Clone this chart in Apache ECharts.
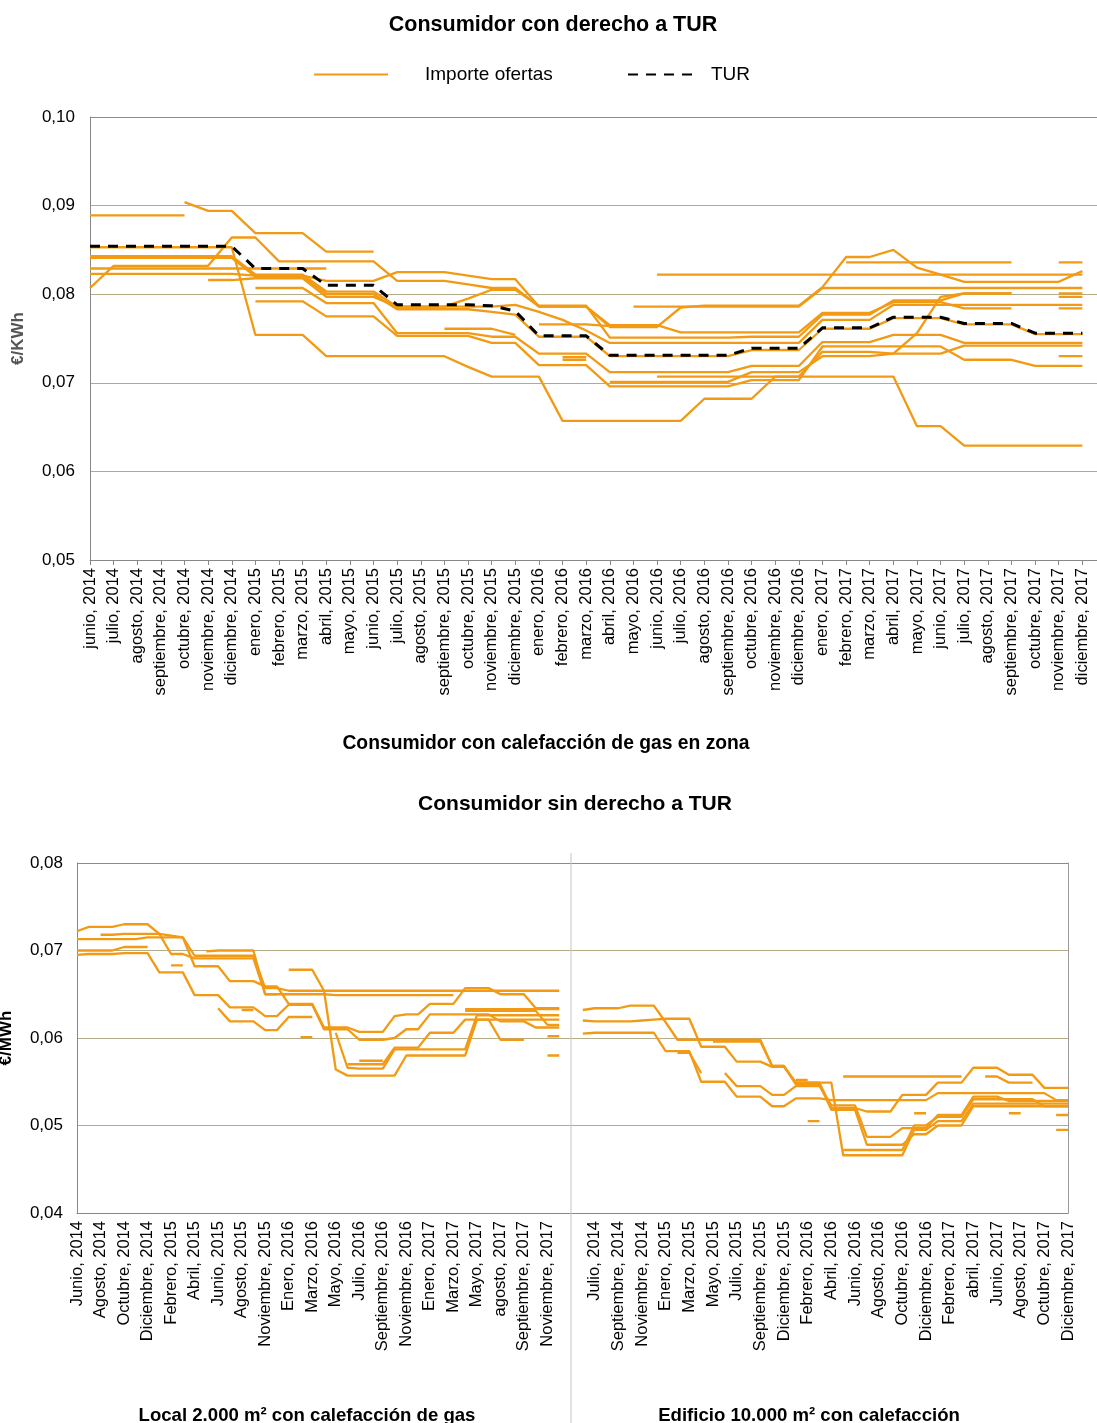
<!DOCTYPE html>
<html>
<head>
<meta charset="utf-8">
<script src="https://cdn.jsdelivr.net/npm/echarts@6/dist/echarts.min.js"></script>
<style>
  html, body { margin: 0; padding: 0; background: #fff; }
  #chart { width: 1097px; height: 1423px; }
</style>
</head>
<body>
<div id="chart"></div>
<script>
// ---- gráfico superior: consumidor con derecho a TUR (€/kWh)
const mesesTUR = ['junio, 2014', 'julio, 2014', 'agosto, 2014', 'septiembre, 2014', 'octubre, 2014', 'noviembre, 2014', 'diciembre, 2014',
  'enero, 2015', 'febrero, 2015', 'marzo, 2015', 'abril, 2015', 'mayo, 2015', 'junio, 2015', 'julio, 2015', 'agosto, 2015',
  'septiembre, 2015', 'octubre, 2015', 'noviembre, 2015', 'diciembre, 2015', 'enero, 2016', 'febrero, 2016', 'marzo, 2016',
  'abril, 2016', 'mayo, 2016', 'junio, 2016', 'julio, 2016', 'agosto, 2016', 'septiembre, 2016', 'octubre, 2016', 'noviembre, 2016',
  'diciembre, 2016', 'enero, 2017', 'febrero, 2017', 'marzo, 2017', 'abril, 2017', 'mayo, 2017', 'junio, 2017', 'julio, 2017',
  'agosto, 2017', 'septiembre, 2017', 'octubre, 2017', 'noviembre, 2017', 'diciembre, 2017']

const tur = [.0854, .0854, .0854, .0854, .0854, .0854, .0854, .0829, .0829, .0829, .0810, .0810, .0810, .0788, .0788, .0788, .0788,
  .0787, .0781, .0753, .0753, .0753, .0731, .0731, .0731, .0731, .0731, .0731, .0739, .0739, .0739, .0762, .0762, .0762,
  .0774, .0774, .0774, .0767, .0767, .0767, .0756, .0756, .0756]

const n = null
const oferta01 = [.0889, .0889, .0889, .0889, .0889, n, n, n, n, n, n, n, n, n, n, n, n, n, n, n, n, n, n, n, n, n, n, n, n, n, n, n, n, n, n, n, n, n, n, n, n, n, n]
const oferta02 = [n, n, n, n, .0904, .0894, .0894, .0869, .0869, .0869, .0848, .0848, .0848, n, n, n, n, n, n, n, n, n, n, n, n, n, n, n, n, n, n, n, n, n, n, n, n, n, n, n, n, n, n]
const oferta03 = [.0853, .0853, .0853, .0853, .0853, .0853, .0853, .0754, .0754, .0754, .0730, .0730, .0730, .0730, .0730, .0730, .0718,
  .0707, .0707, .0707, .0657, .0657, .0657, .0657, .0657, .0657, .0682, .0682, .0682, .0707, .0707, .0707, .0707, .0707,
  .0707, .0651, .0651, .0629, .0629, .0629, .0629, .0629, .0629]
const oferta04 = [.0807, .0832, .0832, .0832, .0832, .0832, .0864, .0864, .0837, .0837, .0837, .0837, .0837, .0815, .0815, .0815, .0811,
  .0807, .0807, .0786, .0786, .0786, .0765, .0765, .0765, .0757, .0757, .0757, .0757, .0757, .0757, .0779, .0779, .0779,
  .0791, .0791, .0791, .0784, .0784, .0784, n, .0784, .0784]
const oferta05 = [.0823, .0823, .0823, .0823, .0823, .0823, .0823, .0821, .0821, .0821, .0815, .0815, .0815, .0825, .0825, .0825, .0821,
  .0817, .0817, .0786, .0786, .0786, .0763, .0763, .0763, .0785, .0787, .0787, .0787, .0787, .0787, .0808, .0842, .0842,
  .0850, .0830, .0822, .0814, .0814, .0814, .0814, .0814, .0826]
const oferta06 = [.0829, .0829, .0829, .0829, .0829, .0829, .0829, .0829, .0829, .0829, .0829, n, n, n, n, n, n, n, n, n, n, n, n, n, n, n, n, n, n, n, n, n, n, n, n, n, n, n, n, n, n, n, n]
const oferta07 = [n, n, n, n, n, n, n, n, n, n, n, n, n, n, n, n, n, n, n, n, n, n, n, .0786, .0786, .0786, .0786, .0786, .0786, .0786, .0786,
  .0807, .0807, .0807, .0807, .0807, .0807, .0807, .0807, .0807, .0807, .0807, .0807]
const oferta08 = [n, n, n, n, n, n, n, n, n, n, n, n, n, n, n, n, n, n, n, n, n, n, n, n, .0822, .0822, .0822, .0822, .0822, .0822, .0822,
  .0822, .0822, .0822, .0822, .0822, .0822, .0822, .0822, .0822, .0822, .0822, .0822]
const oferta09 = [n, n, n, n, n, n, n, n, n, n, n, n, n, n, n, n, n, n, n, n, n, n, n, n, n, n, n, n, n, n, n, n, .0836, .0836,
  .0836, .0836, .0836, .0836, .0836, .0836, n, .0836, .0836]
const oferta10 = [.0843, .0843, .0843, .0843, .0843, .0843, .0843, .0822, .0822, .0822, .0803, .0803, .0803, .0786, .0786, .0786, .0786,
  .0786, .0788, .0780, .0771, .0759, .0745, .0745, .0745, .0745, .0745, .0745, .0745, .0745, .0745, .0771, .0771, .0771,
  .0788, .0788, .0788, .0788, .0788, .0788, .0788, .0788, .0788]
const oferta11 = [.0841, .0841, .0841, .0841, .0841, .0841, .0841, .0820, .0820, .0820, .0800, .0800, .0800, .0783, .0783, .0783, .0783,
  .0780, .0777, .0752, .0752, .0752, .0730, .0730, .0730, .0730, .0730, .0730, .0737, .0737, .0737, .0761, .0761, .0761,
  .0773, .0773, .0773, .0766, .0766, .0766, .0755, .0755, .0755]
const oferta12 = [n, n, n, n, n, .0816, .0816, .0818, .0818, .0818, .0797, .0797, .0797, .0786, .0786, .0786, .0795,
  .0805, .0805, .0787, .0787, .0787, .0751, .0751, .0751, .0751, .0751, .0751, .0752, .0752, .0752, .0777, .0777, .0777,
  .0793, .0793, .0793, .0801, .0801, .0801, n, .0801, .0801]
const oferta13 = [n, n, n, n, n, n, n, .0807, .0807, .0807, .0790, .0790, .0790, .0756, .0756, .0756, .0756,
  .0752, .0752, .0733, .0733, .0733, .0712, .0712, .0712, .0712, .0712, .0712, .0719, .0719, .0719, .0746, .0746, .0746,
  .0754, .0754, .0754, .0745, .0745, .0745, .0745, .0745, .0745]
const oferta14 = [n, n, n, n, n, n, n, .0792, .0792, .0792, .0775, .0775, .0775, .0753, .0753, .0753, .0753,
  .0745, .0745, .0720, .0720, .0720, .0696, .0696, .0696, .0696, .0696, .0696, .0703, .0703, .0703, .0741, .0741, .0741,
  .0741, .0741, .0741, .0726, .0726, .0726, .0719, .0719, .0719]
const oferta15 = [n, n, n, n, n, n, n, n, n, n, n, n, n, n, n, .0761, .0761, .0761, .0754, n, n, n, n, n, n, n, n, n, n, n, n, n, n, n, n, n, n, n, n, n, n, n, n]
const oferta16 = [n, n, n, n, n, n, n, n, n, n, n, n, n, n, n, n, n, n, n, .0766, .0766, .0766, .0764, n, n, n, n, n, n, n, n, n, n, n, n, n, n, n, n, n, n, n, n]
const oferta17 = [n, n, n, n, n, n, n, n, n, n, n, n, n, n, n, n, n, n, n, n, n, n, n, n, .0707, .0707, .0707, .0707, .0707, .0707, .0707,
  .0735, .0735, .0735, .0733, .0733, .0733, .0742, .0742, .0742, .0742, .0742, .0742]
const oferta18 = [n, n, n, n, n, n, n, n, n, n, n, n, n, n, n, n, n, n, n, n, n, n, .0701, .0701, .0701, .0701, .0701, .0701, .0712, .0712, .0712,
  .0730, .0730, .0730, .0733, .0756, .0797, .0801, .0801, .0801, n, .0797, .0797]
const oferta19 = [n, n, n, n, n, n, n, n, n, n, n, n, n, n, n, n, n, n, n, n, .0729, .0729, n, n, n, n, n, n, n, n, n, n, n, n, n, n, n, n, n, n, n, n, n]
const oferta20 = [n, n, n, n, n, n, n, n, n, n, n, n, n, n, n, n, n, n, n, n, .0726, .0726, n, n, n, n, n, n, n, n, n, n, n, n, n, n, n, n, n, n, n, n, n]
const oferta21 = [n, n, n, n, n, n, n, n, n, n, n, n, n, n, n, n, n, n, n, n, n, n, n, n, n, n, n, n, n, n, n, n, n, n, n, n, n, n, n, n, n, .0730, .0730]

const ofertasTUR = [oferta01, oferta02, oferta03, oferta04, oferta05, oferta06, oferta07, oferta08, oferta09, oferta10, oferta11,
  oferta12, oferta13, oferta14, oferta15, oferta16, oferta17, oferta18, oferta19, oferta20, oferta21]

// ---- gráfico inferior: consumidor sin derecho a TUR (una etiqueta de cada dos en el eje)
const mesesLocal = ['Junio, 2014', 'Julio, 2014', 'Agosto, 2014', 'Septiembre, 2014', 'Octubre, 2014', 'Noviembre, 2014', 'Diciembre, 2014',
  'Enero, 2015', 'Febrero, 2015', 'Marzo, 2015', 'Abril, 2015', 'Mayo, 2015', 'Junio, 2015', 'Julio, 2015', 'Agosto, 2015',
  'Octubre, 2015', 'Noviembre, 2015', 'Diciembre, 2015', 'Enero, 2016', 'Febrero, 2016', 'Marzo, 2016', 'Abril, 2016', 'Mayo, 2016',
  'Junio, 2016', 'Julio, 2016', 'Agosto, 2016', 'Septiembre, 2016', 'Octubre, 2016', 'Noviembre, 2016', 'Diciembre, 2016',
  'Enero, 2017', 'Febrero, 2017', 'Marzo, 2017', 'Abril, 2017', 'Mayo, 2017', 'Julio, 2017', 'agosto, 2017', 'Agosto, 2017',
  'Septiembre, 2017', 'Octubre, 2017', 'Noviembre, 2017', 'Diciembre, 2017', 'Enero, 2018']
const mesesEdificio = ['Mayo, 2014', 'Junio, 2014', 'Julio, 2014', 'Agosto, 2014', 'Septiembre, 2014', 'Octubre, 2014', 'Noviembre, 2014',
  'Diciembre, 2014', 'Enero, 2015', 'Febrero, 2015', 'Marzo, 2015', 'Abril, 2015', 'Mayo, 2015', 'Junio, 2015', 'Julio, 2015',
  'Agosto, 2015', 'Septiembre, 2015', 'Noviembre, 2015', 'Diciembre, 2015', 'Enero, 2016', 'Febrero, 2016', 'Marzo, 2016',
  'Abril, 2016', 'Mayo, 2016', 'Junio, 2016', 'Julio, 2016', 'Agosto, 2016', 'Septiembre, 2016', 'Octubre, 2016', 'Noviembre, 2016',
  'Diciembre, 2016', 'Enero, 2017', 'Febrero, 2017', 'Marzo, 2017', 'abril, 2017', 'Mayo, 2017', 'Junio, 2017', 'Julio, 2017',
  'Agosto, 2017', 'Septiembre, 2017', 'Octubre, 2017', 'Noviembre, 2017', 'Diciembre, 2017']

// Local 2.000 m2
const local01 = [.0722, .0727, .0727, .0727, .0730, .0730, .0730, .0719, .0717, .0715, .0682, .0682, .0682, .0665, .0665, .0665, .0659,
  .0659, .0639, .0639, .0639, .0612, .0612, .0612, .0607, .0607, .0607, .0625, .0627, .0627, .0639, .0639, .0639, .0657, .0657,
  .0657, .0650, .0650, .0650, .0634, .0634, .0634, n]
const local02 = [.0713, .0713, .0713, .0713, .0713, .0713, .0715, .0715, .0715, .0715, .0694, .0694, .0694, .0694, .0694, .0694, .0657,
  .0657, .0654, .0654, .0654, .0654, .0654, .0654, .0654, .0654, .0654, .0654, .0654, .0654, .0654, .0654, .0654, .0654, .0654,
  .0654, .0654, .0654, .0654, .0654, .0654, .0654, n]
const local03 = [.0700, .0700, .0700, .0700, .0704, .0704, .0704, n, n, n, n, n, n, n, n, n, n, n, n, n, n, n, n, n, n, n, n, n, n, n, n, n, n, n, n, n, n, n, n, n, n, n, n]
const local04 = [.0695, .0696, .0696, .0696, .0697, .0697, .0697, .0675, .0675, .0675, .0649, .0649, .0649, .0635, .0635, .0635, .0625,
  .0625, .0638, .0638, .0638, .0610, .0610, .0610, .0598, .0598, .0598, .0600, .0610, .0610, .0627, .0627, .0627, .0627, .0627,
  .0627, .0619, .0619, .0619, .0612, .0612, .0612, n]
const local05 = [n, n, .0718, .0718, .0719, .0719, .0719, .0719, .0696, .0696, .0691, .0691, .0691, .0691, .0691, .0691, .0650,
  .0650, .0650, .0650, .0650, .0650, .0649, .0649, .0649, .0649, .0649, .0649, .0649, .0649, .0649, .0649, .0649, n, n,
  n, n, n, n, n, n, n, n]
const local06 = [n, n, n, n, n, n, n, n, n, n, n, n, .0634, .0619, .0619, .0619, .0609, .0609, .0624, .0624, .0624, n, n, n, n, n, n, n, n, n, n, n, n, n, n, n, n, n, n, n, n, n, n]
const local07 = [n, n, n, n, n, n, n, n, n, n, n, n, n, n, n, n, n, n, .0678, .0678, .0678, .0654, .0564, .0557, .0557, .0557, .0557,
  .0557, .0580, .0580, .0580, .0580, .0580, .0580, .0621, .0621, .0621, .0621, .0621, .0621, .0621, .0621, n]
const local08 = [n, n, n, n, n, n, n, n, n, n, n, .0699, .0700, .0700, .0700, .0700, .0650, .0650, n, n, n, n, n, n, n, n, n, n, n, n, n, n, n, n, n, n, n, n, n, n, n, n, n]
const local09 = [n, n, n, n, n, n, n, n, n, n, n, n, n, n, n, n, n, n, n, n, n, n, n, .0570, .0570, .0570, .0570, .0589, .0589, .0589,
  .0606, .0606, .0606, .0621, .0621, .0621, .0598, .0598, .0598, n, n, n, n]
const local10 = [n, n, n, n, n, n, n, n, n, n, n, n, n, n, n, n, n, n, n, n, n, n, .0606, .0566, .0565, .0565, .0565, .0587, .0587, .0587,
  .0587, .0587, .0587, .0587, .0626, .0626, .0626, .0626, .0626, .0626, .0626, .0626, n]
const local11 = [n, n, n, n, n, n, n, n, n, n, n, n, n, n, n, n, n, n, n, n, n, n, n, n, n, n, n, n, n, n, n, n, n, .0631, .0631, .0631,
  .0631, .0631, .0631, .0631, .0615, .0615, n]
const local12 = [n, n, n, n, n, n, n, n, n, n, n, n, n, n, n, n, n, n, n, n, n, n, n, n, n, n, n, n, n, n, n, n, n, .0633, .0633, .0633,
  .0633, .0633, .0633, .0633, .0633, .0633, n]
const local13 = [n, n, n, n, n, n, n, n, .0683, .0683, n, n, n, n, n, n, n, n, n, n, n, n, n, n, n, n, n, n, n, n, n, n, n, n, n, n, n, n, n, n, n, n, n]
const local14 = [n, n, n, n, n, n, n, n, n, n, n, n, n, n, .0632, .0632, n, n, n, n, n, n, n, n, n, n, n, n, n, n, n, n, n, n, n, n, n, n, n, n, n, n, n]
const local15 = [n, n, n, n, n, n, n, n, n, n, n, n, n, n, n, n, n, n, n, .0601, .0601, n, n, n, n, n, n, n, n, n, n, n, n, n, n, n, n, n, n, n, n, n, n]
const local16 = [n, n, n, n, n, n, n, n, n, n, n, n, n, n, n, n, n, n, n, n, n, n, n, n, n, n, n, n, n, n, n, n, n, n, n, n, n, n, n, n, .0602, .0602, n]
const local17 = [n, n, n, n, n, n, n, n, n, n, n, n, n, n, n, n, n, n, n, n, n, n, n, n, n, n, n, n, n, n, n, n, n, n, n, n, n, n, n, n, .0580, .0580, n]
const local18 = [n, n, n, n, n, n, n, n, n, n, n, n, n, n, n, n, n, n, n, n, n, n, n, n, .0574, .0574, .0574, n, n, n, n, n, n, n, n, n, n, n, n, n, n, n, n]

// Edificio 10.000 m2
const edificio01 = [n, .0632, .0634, .0634, .0634, .0637, .0637, .0637, .0618, .0598, .0598, .0598, .0598, .0598, .0598, .0598, .0598,
  .0568, .0568, .0549, .0549, .0549, .0520, .0520, .0520, .0516, .0516, .0516, .0535, .0535, .0535, .0549, .0549, .0549, .0566,
  .0566, .0566, .0558, .0558, .0558, .0543, .0543, .0543]
const edificio02 = [n, .0620, .0619, .0619, .0619, .0619, .0620, .0621, .0622, .0622, .0622, .0590, .0590, .0590, .0573, .0573, .0573,
  .0567, .0567, .0549, .0549, .0549, .0549, .0466, .0466, .0466, .0466, .0466, .0466, .0495, .0495, .0505, .0505, .0505, .0525,
  .0525, .0525, .0525, .0525, .0525, .0525, .0525, .0525]
const edificio03 = [n, .0605, .0606, .0606, .0606, .0606, .0606, .0606, .0585, .0585, .0585, .0550, .0550, .0550, .0533, .0533, .0533,
  .0522, .0522, .0531, .0531, .0531, .0529, .0529, .0529, .0529, .0529, .0529, .0529, .0529, .0529, .0537, .0537, .0537, .0537,
  .0537, .0537, .0537, .0537, .0537, .0537, .0529, .0529]
const edificio04 = [n, n, n, n, n, n, n, n, n, n, n, n, n, .0560, .0545, .0545, .0545, .0535, .0535, .0545, .0545, .0545, .0523, .0523,
  .0523, .0487, .0487, .0487, .0497, .0497, .0497, .0512, .0512, .0512, .0533, .0533, .0533, .0528, .0528, .0528, .0528, .0528, .0528]
const edificio05 = [n, n, n, n, n, n, n, n, n, n, n, n, .0596, .0596, .0596, .0596, .0596, .0568, .0568, .0547, .0547, .0547, .0518,
  .0518, .0518, .0478, .0478, .0478, .0478, .0490, .0490, .0500, .0500, .0500, .0522, .0522, .0522, .0522, .0522, .0522, .0522, .0522, .0522]
const edificio06 = [n, n, n, n, n, n, n, n, n, .0583, .0583, .0560, n, n, n, n, n, n, n, n, n, n, n, n, n, n, n, n, n, n, n, n, n, n, n, n, n, n, n, n, n, n, n]
const edificio07 = [n, n, n, n, n, n, n, n, n, n, n, n, n, n, n, n, n, n, n, n, n, n, n, n, n, n, n, n, n, n, n, n, n, n, n, .0556, .0556,
  .0549, .0549, .0549, n, n, n]
const edificio08 = [n, n, n, n, n, n, n, n, n, n, n, n, n, n, n, n, n, n, n, n, n, n, n, .0556, .0556, .0556, .0556, .0556, .0556, .0556,
  .0556, .0556, .0556, .0556, n, n, n, n, n, n, n, n, n]
const edificio09 = [n, n, n, n, n, n, n, n, n, n, n, n, n, n, n, n, n, n, n, n, n, n, n, .0472, .0472, .0472, .0472, .0472, .0472, .0500,
  .0500, .0510, .0510, .0510, .0530, .0530, .0530, .0530, .0530, .0530, .0522, .0522, .0522]
const edificio10 = [n, n, n, n, n, n, n, n, n, n, n, n, n, n, n, n, n, n, n, .0552, .0552, n, n, n, n, n, n, n, n, n, n, n, n, n, n, n, n, n, n, n, n, n, n]
const edificio11 = [n, n, n, n, n, n, n, n, n, n, n, n, n, n, n, n, n, n, n, n, .0505, .0505, n, n, n, n, n, n, n, n, n, n, n, n, n, n, n, n, n, n, n, n, n]
const edificio12 = [n, n, n, n, n, n, n, n, n, n, n, n, n, n, n, n, n, n, n, n, n, n, n, n, n, n, n, n, n, .0514, .0514, n, n, n, n, n, n, n, n, n, n, n, n]
const edificio13 = [n, n, n, n, n, n, n, n, n, n, n, n, n, n, n, n, n, n, n, n, n, n, n, n, n, n, n, n, n, n, n, n, n, n, n, n, n, .0514, .0514, n, n, n, n]
const edificio14 = [n, n, n, n, n, n, n, n, n, n, n, n, n, n, n, n, n, n, n, n, n, n, n, n, n, n, n, n, n, n, n, n, n, n, n, n, n, n, n, n, n, .0512, .0512]
const edificio15 = [n, n, n, n, n, n, n, n, n, n, n, n, n, n, n, n, n, n, n, n, n, n, n, n, n, n, n, n, n, n, n, n, n, n, n, n, n, n, n, n, n, .0495, .0495]

const ofertasLocal = [local01, local02, local03, local04, local05, local06, local07, local08, local09, local10, local11, local12,
  local13, local14, local15, local16, local17, local18]
const ofertasEdificio = [edificio01, edificio02, edificio03, edificio04, edificio05, edificio06, edificio07, edificio08, edificio09,
  edificio10, edificio11, edificio12, edificio13, edificio14, edificio15]

// ---- opciones
const naranja = '#f29a14'
const fuente = 'Liberation Sans'
const fmt = v => v.toFixed(2).replace('.', ',')
const colorRejilla = '#b3ac88'

function serieOferta(nombre, data, eje) {
  return {
    name: nombre,
    type: 'line',
    xAxisIndex: eje,
    yAxisIndex: eje,
    data: data,
    symbol: 'none',
    connectNulls: false,
    silent: true,
    lineStyle: { color: naranja, width: 2.3 },
    itemStyle: { color: naranja },
    z: 2
  }
}

const series = []
ofertasTUR.forEach(d => series.push(serieOferta('Importe ofertas', d, 0)))
series.push({
  name: 'TUR',
  type: 'line',
  data: tur,
  symbol: 'none',
  silent: true,
  lineStyle: { color: '#000', width: 3, type: [10, 8] },
  itemStyle: { color: '#000' },
  z: 5
})
ofertasLocal.forEach(d => series.push(serieOferta('Local', d, 1)))
ofertasEdificio.forEach(d => series.push(serieOferta('Edificio', d, 2)))

const textoEje = { color: '#000', fontFamily: fuente, fontSize: 16.5 }
const titulo = (size) => ({ fontSize: size, fontWeight: 'bold', color: '#000', fontFamily: fuente })

const option = {
  animation: false,
  backgroundColor: '#fff',
  textStyle: { fontFamily: fuente },
  title: [
    { text: 'Consumidor con derecho a TUR', left: 548, textAlign: 'center', top: 9, textStyle: titulo(21.5) },
    { text: 'Consumidor con calefacción de gas en zona', left: 541, textAlign: 'center', top: 729, textStyle: titulo(19.3) },
    { text: 'Consumidor sin derecho a TUR', left: 570, textAlign: 'center', top: 789, textStyle: titulo(21) },
    { text: 'Local 2.000 m² con calefacción de gas', left: 302, textAlign: 'center', top: 1401, textStyle: titulo(18.6) },
    { text: 'Edificio 10.000 m² con calefacción', left: 804, textAlign: 'center', top: 1401, textStyle: titulo(18.6) }
  ],
  legend: [
    { data: ['Importe ofertas'], left: 313, top: 65, padding: 0, itemWidth: 74, itemHeight: 14, itemStyle: { opacity: 0 },
      textStyle: { fontSize: 19, color: '#000', fontFamily: fuente, padding: [0, 0, 0, 32] } },
    { data: ['TUR'], left: 627, top: 65, padding: 0, itemWidth: 66, itemHeight: 14, itemStyle: { opacity: 0 },
      textStyle: { fontSize: 19, color: '#000', fontFamily: fuente, padding: [0, 0, 0, 12] } }
  ],
  grid: [
    { left: 90, top: 117, width: 1016, height: 443, containLabel: false, outerBoundsMode: 'none' },
    { left: 77, top: 863, width: 494, height: 350, containLabel: false, outerBoundsMode: 'none' },
    { left: 571, top: 863, width: 497, height: 350, containLabel: false, outerBoundsMode: 'none' }
  ],
  xAxis: [
    {
      type: 'category', gridIndex: 0, boundaryGap: false, data: mesesTUR.concat(['']),
      axisLine: { lineStyle: { color: '#888' } },
      axisTick: { show: true, length: 5, lineStyle: { color: '#888' } },
      axisLabel: { ...textoEje, rotate: 90, interval: 0, margin: 8 }
    },
    {
      type: 'category', gridIndex: 1, boundaryGap: false, data: mesesLocal,
      axisLine: { lineStyle: { color: '#888' } },
      axisTick: { show: false },
      axisLabel: { ...textoEje, rotate: 90, margin: 8, padding: [6, 0, 0, 0], interval: (i) => i % 2 === 0 && i <= 40 }
    },
    {
      type: 'category', gridIndex: 2, boundaryGap: false, data: mesesEdificio,
      axisLine: { lineStyle: { color: '#888' } },
      axisTick: { show: false },
      axisLabel: { ...textoEje, rotate: 90, margin: 8, padding: [6, 0, 0, 0], interval: (i) => i % 2 === 0 && i >= 2 }
    }
  ],
  yAxis: [
    {
      type: 'value', gridIndex: 0, min: 0.05, max: 0.10, interval: 0.01,
      name: '€/KWh', nameLocation: 'middle', nameGap: 63,
      nameTextStyle: { fontSize: 17, fontWeight: 'bold', color: '#555', fontFamily: fuente },
      axisLine: { show: true, lineStyle: { color: '#888' } },
      axisTick: { show: false },
      axisLabel: { ...textoEje, fontSize: 17, formatter: fmt, margin: 15 },
      splitLine: { lineStyle: { color: [colorRejilla, colorRejilla, colorRejilla, colorRejilla, colorRejilla, '#8f8c7c'] } }
    },
    {
      type: 'value', gridIndex: 1, min: 0.04, max: 0.08, interval: 0.01,
      name: '€/MWh', nameLocation: 'middle', nameGap: 62,
      nameTextStyle: { fontSize: 17, fontWeight: 'bold', color: '#000', fontFamily: fuente },
      axisLine: { show: true, lineStyle: { color: '#888' } },
      axisTick: { show: false },
      axisLabel: { ...textoEje, fontSize: 17, formatter: fmt, margin: 14 },
      splitLine: { lineStyle: { color: ['#ccc', colorRejilla, colorRejilla, colorRejilla, '#8f8c7c'] } }
    },
    {
      type: 'value', gridIndex: 2, min: 0.04, max: 0.08, interval: 0.01, position: 'right',
      axisLine: { show: true, lineStyle: { color: '#999' } },
      axisTick: { show: false },
      axisLabel: { show: false },
      splitLine: { lineStyle: { color: ['#ccc', colorRejilla, colorRejilla, colorRejilla, '#8f8c7c'] } }
    }
  ],
  graphic: [
    { type: 'line', shape: { x1: 571, y1: 853, x2: 571, y2: 1423 }, style: { stroke: '#c4c4c4', lineWidth: 1 }, z: 10 }
  ],
  series: series
}

const chart = echarts.init(document.getElementById('chart'))
chart.setOption(option)
</script>
</body>
</html>
